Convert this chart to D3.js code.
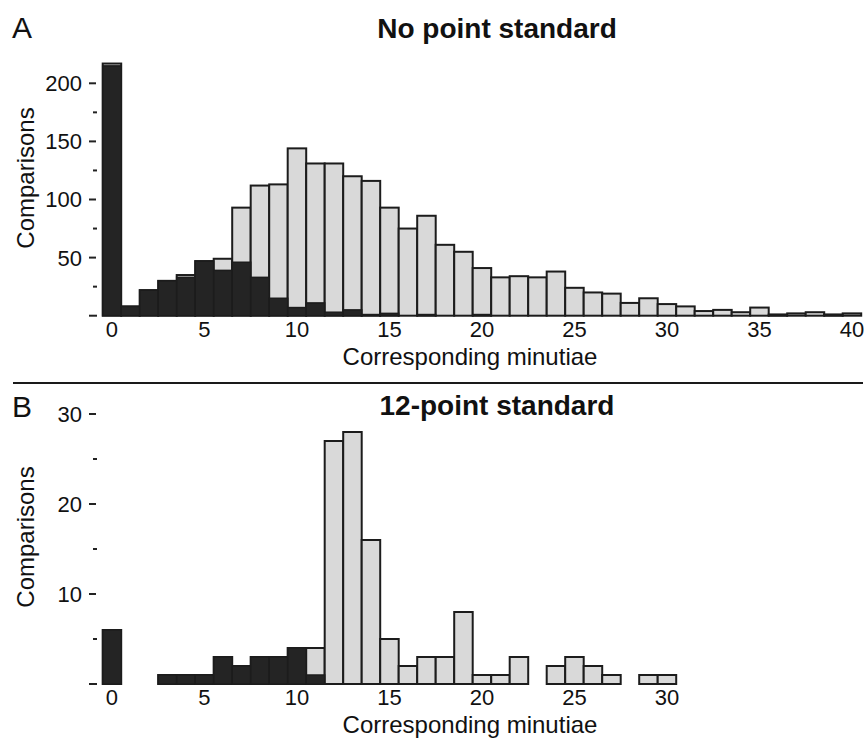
<!DOCTYPE html>
<html>
<head>
<meta charset="utf-8">
<script src="https://cdn.jsdelivr.net/npm/d3@7"></script>
<style>
  html, body { margin: 0; padding: 0; background: #fff; }
  svg { display: block; }
  text { font-family: "Liberation Sans", Arial, sans-serif; fill: #111; }
</style>
</head>
<body>
<svg id="chart" width="867" height="741"></svg>
<script>
// ---- Data ----
const binsA = d3.range(0, 41);             // corresponding minutiae 0..40
const totalA = [217, 8, 22, 30, 35, 47, 49, 93, 112, 113, 144, 131, 131, 120, 116, 93, 75, 86, 61, 55,
                41, 33, 34, 33, 38, 24, 20, 19, 11, 15, 10, 8, 4, 5, 3, 7, 1, 2, 3, 1, 2];
const darkA  = [215, 8, 22, 30, 33, 47, 39, 46, 33, 15, 7, 11, 3, 5, 1, 2, 0, 1, 0, 0,
                1, 0, 0, 0, 0, 0, 0, 0, 0, 0, 0, 0, 0, 0, 0, 0, 1, 0, 0, 1, 0];
const binsB = d3.range(0, 31);             // corresponding minutiae 0..30
const totalB = [6, 0, 0, 1, 1, 1, 3, 2, 3, 3, 4, 4, 27, 28, 16, 5, 2, 3, 3, 8, 1, 1, 3, 0, 2, 3, 2, 1, 0, 1, 1];
const darkB  = [6, 0, 0, 1, 1, 1, 3, 2, 3, 3, 4, 1, 0, 0, 0, 0, 0, 0, 0, 0, 0, 0, 0, 0, 0, 0, 0, 0, 0, 0, 0];
const xTickValuesA = [0, 5, 10, 15, 20, 25, 30, 35, 40];
const xTickValuesB = [0, 5, 10, 15, 20, 25, 30];
const yMajorA = [50, 100, 150, 200];
const yMinorA = [0, 25, 75, 125, 175];
const yMajorB = [10, 20, 30];
const yMinorB = [0, 5, 15, 25];
const titleA = "No point standard";
const titleB = "12-point standard";
const xLabel = "Corresponding minutiae";
const yLabel = "Comparisons";

// ---- Layout ----
const svg = d3.select("#chart");
const GRAY = "#d9d9d9", DARK = "#242424", STROKE = "#1c1c1c";

// shared x scale: bin i spans [i, i+1]
const x = d3.scaleLinear().domain([0, 41]).range([102.7, 861.2]);

function panel(cfg) {
  const y = d3.scaleLinear().domain(cfg.yDomain).range([cfg.y0, cfg.yTop]);
  const g = svg.append("g");

  // gray totals
  g.selectAll("rect.tot").data(cfg.bins.filter(i => cfg.total[i] > 0)).enter()
    .append("rect").attr("class", "tot")
    .attr("x", i => x(i)).attr("width", i => x(i + 1) - x(i))
    .attr("y", i => y(cfg.total[i])).attr("height", i => y(0) - y(cfg.total[i]))
    .attr("fill", GRAY).attr("stroke", STROKE).attr("stroke-width", 2);
  // dark portions
  g.selectAll("rect.dark").data(cfg.bins.filter(i => cfg.dark[i] > 0)).enter()
    .append("rect").attr("class", "dark")
    .attr("x", i => x(i)).attr("width", i => x(i + 1) - x(i))
    .attr("y", i => y(cfg.dark[i])).attr("height", i => y(0) - y(cfg.dark[i]))
    .attr("fill", DARK).attr("stroke", STROKE).attr("stroke-width", 1.5);

  // y ticks (dash marks, labels)
  g.selectAll("line.maj").data(cfg.yMajor).enter().append("line")
    .attr("x1", 89).attr("x2", 96).attr("y1", d => y(d)).attr("y2", d => y(d))
    .attr("stroke", "#222").attr("stroke-width", 2);
  g.selectAll("line.min").data(cfg.yMinor).enter().append("line")
    .attr("x1", d => d === 0 ? 89 : 93).attr("x2", 97).attr("y1", d => y(d)).attr("y2", d => y(d))
    .attr("stroke", "#222").attr("stroke-width", 2);
  g.selectAll("text.yt").data(cfg.yMajor).enter().append("text")
    .attr("x", 82).attr("y", d => y(d)).attr("dy", "0.36em")
    .attr("text-anchor", "end").style("font-size", "22px").text(d => d);

  // x tick labels (bin centers)
  g.selectAll("text.xt").data(cfg.xTicks).enter().append("text")
    .attr("x", d => x(d + 0.5)).attr("y", y(0) + 21)
    .attr("text-anchor", "middle").style("font-size", "22px").text(d => d);

  // axis titles
  g.append("text").attr("x", 470).attr("y", y(0) + 49)
    .attr("text-anchor", "middle").style("font-size", "24px").text(xLabel);
  g.append("text").attr("transform", `translate(34,${cfg.yLabelC}) rotate(-90)`)
    .attr("text-anchor", "middle").style("font-size", "24px").text(yLabel);

  // panel title and letter
  g.append("text").attr("x", 497).attr("y", cfg.titleY)
    .attr("text-anchor", "middle").style("font-size", "28px").style("font-weight", "bold").text(cfg.title);
  g.append("text").attr("x", 12).attr("y", cfg.letterY)
    .style("font-size", "30px").text(cfg.letter);
}

panel({ bins: binsA, total: totalA, dark: darkA, yDomain: [0, 200], y0: 315.7, yTop: 83.3,
        yMajor: yMajorA, yMinor: yMinorA, xTicks: xTickValuesA, yLabelC: 178,
        title: titleA, titleY: 38, letter: "A", letterY: 38 });

// separator
svg.append("line").attr("x1", 13).attr("x2", 863).attr("y1", 383).attr("y2", 383)
  .attr("stroke", "#1a1a1a").attr("stroke-width", 2);

panel({ bins: binsB, total: totalB, dark: darkB, yDomain: [0, 30], y0: 684, yTop: 414,
        yMajor: yMajorB, yMinor: yMinorB, xTicks: xTickValuesB, yLabelC: 537,
        title: titleB, titleY: 415, letter: "B", letterY: 417 });
</script>
</body>
</html>
